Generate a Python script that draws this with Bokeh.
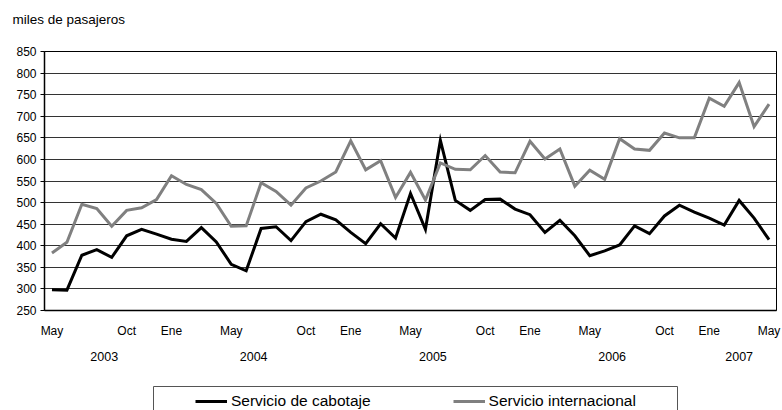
from bokeh.plotting import figure
from bokeh.layouts import column
from bokeh.models import (Range1d, FixedTicker, LinearAxis, Legend, LegendItem,
                          Grid, ColumnDataSource, BoxAnnotation, Title)
from bokeh.embed import file_html
from bokeh.resources import INLINE

# ---- data -------------------------------------------------------------
mes_nombres = ["May", "Jun", "Jul", "Ago", "Sep", "Oct", "Nov", "Dic",
               "Ene", "Feb", "Mar", "Abr"]
meses = (mes_nombres * 4) + ["May"]
anios = (["2003"] * 8 + ["2004"] * 12 + ["2005"] * 12 + ["2006"] * 12 + ["2007"] * 5)

cabotaje = [298, 297, 378, 391, 373, 423, 438, 427, 415, 410, 442, 409,
            357, 342, 440, 444, 412, 456, 473, 460, 431, 405, 451, 418,
            521, 438, 644, 505, 482, 507, 508, 485, 472, 431, 459, 423,
            377, 388, 402, 446, 428, 469, 494, 478, 464, 448, 505, 464,
            414]
internacional = [383, 408, 496, 486, 445, 482, 488, 507, 562, 542, 530, 498,
                 445, 446, 546, 526, 494, 534, 550, 571, 643, 576, 597, 512,
                 570, 506, 592, 577, 576, 609, 571, 569, 642, 601, 624, 538,
                 575, 554, 648, 624, 621, 661, 650, 650, 742, 723, 778, 676,
                 728]
meses_mostrados = ["May", "Oct", "Ene"]
y_ticks = [250, 300, 350, 400, 450, 500, 550, 600, 650, 700, 750, 800, 850]
serie_nombres = ["Servicio de cabotaje", "Servicio internacional"]
serie_colores = ["black", "#808080"]
unidad = "miles de pasajeros"

# ---- derived ----------------------------------------------------------
idx = list(range(len(meses)))
src = ColumnDataSource(dict(x=idx, cab=cabotaje, inter=internacional))

mes_ticks = [i for i, m in enumerate(meses) if m in meses_mostrados]
mes_over = {i: meses[i] for i in mes_ticks}

anio_orden = []
for a in anios:
    if a not in anio_orden:
        anio_orden.append(a)
anio_ticks = []
anio_over = {}
for a in anio_orden:
    pos = [i for i, b in enumerate(anios) if b == a]
    c = sum(pos) / len(pos)
    anio_ticks.append(c)
    anio_over[c] = a

FONT = "Liberation Sans"
XR = Range1d(-0.5, len(meses) - 0.5)


def strip(height):
    f = figure(width=782, height=height, x_range=XR, y_range=Range1d(0, 1),
               x_axis_type=None, y_axis_type=None,
               output_backend="svg", toolbar_location=None,
               min_border_left=44, min_border_right=6,
               min_border_top=0, min_border_bottom=0)
    f.title_location = None
    f.background_fill_color = "white"
    f.border_fill_color = "white"
    f.outline_line_color = None
    f.xgrid.visible = False
    f.ygrid.visible = False
    return f


# ---- heading strip (unit) ---------------------------------------------
head = strip(40)
head.add_layout(Title(text=unidad, align="left", offset=-32, standoff=18,
                      text_font=FONT, text_font_size="13.5px",
                      text_font_style="normal", text_color="black"), "above")

# ---- main chart -------------------------------------------------------
p = figure(width=782, height=344,
           x_range=XR,
           y_range=Range1d(y_ticks[0], y_ticks[-1]),
           x_axis_type=None, y_axis_type=None,
           output_backend="svg", toolbar_location=None,
           min_border_left=44, min_border_right=6,
           min_border_top=11, min_border_bottom=74)
p.title_location = None
p.background_fill_color = "white"
p.border_fill_color = "white"
p.outline_line_color = "black"
p.outline_line_width = 1

yticker = FixedTicker(ticks=y_ticks)
p.add_layout(Grid(dimension=1, ticker=yticker, grid_line_color="#333333",
                  grid_line_width=1))

yaxis = LinearAxis(ticker=yticker)
yaxis.axis_line_color = "black"
yaxis.axis_line_width = 1.5
yaxis.major_tick_line_color = "black"
yaxis.major_tick_out = 4
yaxis.major_tick_in = 0
yaxis.minor_tick_line_color = None
yaxis.major_label_standoff = 4
yaxis.major_label_text_font = FONT
yaxis.major_label_text_font_size = "12px"
yaxis.major_label_text_color = "black"
p.add_layout(yaxis, "left")

xaxis = LinearAxis(ticker=FixedTicker(ticks=mes_ticks))
xaxis.major_label_overrides = mes_over
xaxis.axis_line_color = "black"
xaxis.axis_line_width = 1.5
xaxis.major_tick_line_color = None
xaxis.major_tick_out = 0
xaxis.major_tick_in = 0
xaxis.minor_tick_line_color = None
xaxis.major_label_standoff = 13
xaxis.major_label_text_font = FONT
xaxis.major_label_text_font_size = "12px"
xaxis.major_label_text_color = "black"
p.add_layout(xaxis, "below")

yearaxis = LinearAxis(ticker=FixedTicker(ticks=anio_ticks))
yearaxis.major_label_overrides = anio_over
yearaxis.axis_line_color = None
yearaxis.major_tick_line_color = None
yearaxis.major_tick_out = 0
yearaxis.major_tick_in = 0
yearaxis.minor_tick_line_color = None
yearaxis.major_label_standoff = 11
yearaxis.major_label_text_font = FONT
yearaxis.major_label_text_font_size = "12.5px"
yearaxis.major_label_text_color = "black"
p.add_layout(yearaxis, "below")

p.line("x", "cab", source=src, line_color=serie_colores[0], line_width=3,
       line_join="miter")
p.line("x", "inter", source=src, line_color=serie_colores[1], line_width=3,
       line_join="miter")

# ---- legend strip (same frame as the chart, data kept out of view) ----
lg = strip(26)
k1 = lg.line("x", "cab", source=src, line_color=serie_colores[0], line_width=3)
k2 = lg.line("x", "inter", source=src, line_color=serie_colores[1], line_width=3)

box = BoxAnnotation(left=109, right=633, top=24, bottom=-10,
                    left_units="screen", right_units="screen",
                    top_units="screen", bottom_units="screen",
                    fill_color=None, fill_alpha=0,
                    line_color="#555555", line_width=1, line_alpha=1)
lg.add_layout(box)

legend = Legend(items=[LegendItem(label=serie_nombres[0], renderers=[k1]),
                       LegendItem(label=serie_nombres[1], renderers=[k2])],
                orientation="horizontal", location=(151, 0),
                padding=0, spacing=82, margin=0,
                glyph_width=32, glyph_height=16, label_standoff=4,
                label_height=16,
                label_text_font=FONT, label_text_font_size="15.5px",
                label_text_color="black",
                border_line_alpha=0, background_fill_alpha=0)
lg.add_layout(legend)

layout = column(head, p, lg, spacing=0)
open("out.html", "w").write(file_html(layout, INLINE))
